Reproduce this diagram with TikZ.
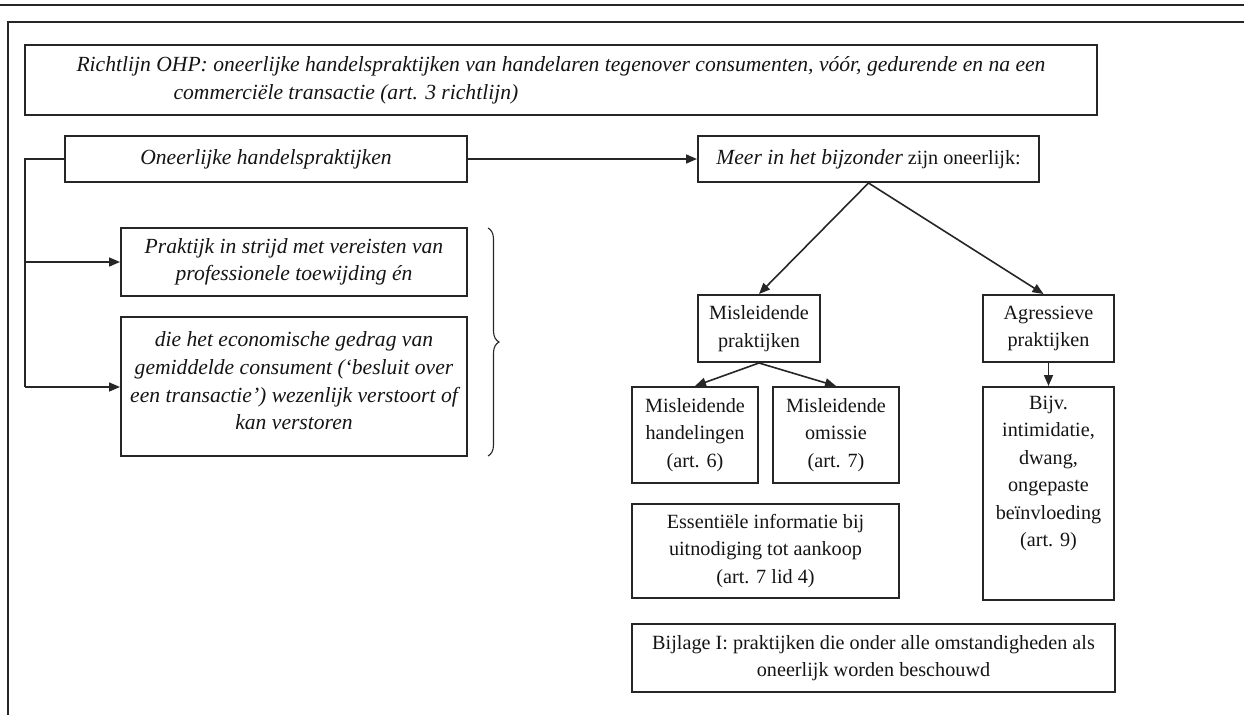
\documentclass[tikz,border=0pt]{standalone}
\usepackage{fontspec}
\setmainfont{Liberation Serif}
\usetikzlibrary{arrows.meta,decorations.pathreplacing}
\newcommand{\fsz}{\fontsize{20.2}{27.4}\selectfont}
\newcommand{\fsi}{\fontsize{21.6}{27.6}\selectfont\itshape}
\tikzset{
  box/.style={draw=black!85, line width=2pt, inner sep=0pt, align=center, font=\fsz, text=black!92},
  ibox/.style={box, font=\fsi},
  txt/.style={inner sep=0pt, align=center, font=\fsz, text=black!92},
  arr/.style={draw=black!85, line width=1.6pt, -{Triangle[length=11pt,width=9pt]}},
  conn/.style={draw=black!85, line width=1.6pt},
}
\begin{document}
\begin{tikzpicture}[x=1pt,y=-1pt]
\useasboundingbox (0,0) rectangle (1244,715);
% page rules and frame
\draw[line width=1.4pt, black!85] (0,5) -- (1244,5);
\draw[line width=2.6pt, black!85] (8,715) -- (8,22) -- (1244,22);

% boxes
\node[ibox, minimum width=1072pt, minimum height=70pt, align=left] (top) at (561,80)
  {Richtlijn OHP: oneerlijke handelspraktijken van handelaren tegenover consumenten, vóór, gedurende en na een\\
   \hspace*{97pt}commerciële transactie (art. 3 richtlijn)};
\node[ibox, minimum width=402pt, minimum height=46pt] (ohp) at (266,159) {Oneerlijke handelspraktijken};
\node[box, minimum width=341pt, minimum height=46pt] (meer) at (868.5,159) {{\fsi Meer in het bijzonder} zijn oneerlijk:};
\node[ibox, minimum width=346pt, minimum height=68pt] (prak) at (294,262)
  {Praktijk in strijd met vereisten van\\professionele toewijding én};
\node[box, minimum width=346pt, minimum height=139pt] (die) at (294,386.5) {};
\node[txt, font=\fsi] (dietxt) at (294,381)
  {die het economische gedrag van\\gemiddelde consument (‘besluit over\\een transactie’) wezenlijk verstoort of\\kan verstoren};
\draw[decorate, decoration={brace, amplitude=11pt}, line width=1.1pt, black!85] (488,228) -- (488,456);

\node[box, minimum width=122pt, minimum height=67pt] (misp) at (759,328.5) {Misleidende\\praktijken};
\node[box, minimum width=131pt, minimum height=67pt] (agr) at (1048.5,328.5) {Agressieve\\praktijken};
\node[box, minimum width=126pt, minimum height=96pt] (mish) at (695,435) {Misleidende\\handelingen\\(art. 6)};
\node[box, minimum width=126pt, minimum height=96pt] (miso) at (836,435) {Misleidende\\omissie\\(art. 7)};
\node[box, minimum width=131pt, minimum height=213pt] (bijv) at (1048.5,493.5) {};
\node[txt, anchor=north] (bijvtxt) at (1048.5,396)
  {Bijv.\\intimidatie,\\dwang,\\ongepaste\\beïnvloeding\\(art. 9)};
\node[box, minimum width=267pt, minimum height=94pt] (ess) at (765.5,551)
  {Essentiële informatie bij\\uitnodiging tot aankoop\\(art. 7 lid 4)};
\node[box, minimum width=483pt, minimum height=68pt] (bijl) at (873.5,658)
  {Bijlage I: praktijken die onder alle omstandigheden als\\oneerlijk worden beschouwd};

% connectors
\draw[arr] (ohp.east) -- (meer.west);
\coordinate (lt) at (25,159);
\coordinate (lm) at (25,262);
\coordinate (lb) at (25,387);
\draw[conn] (ohp.west) -- (lt) -- (lb);
\draw[arr] (lm) -- (prak.west);
\draw[arr] (lb) -- (die.west |- lb);
\draw[arr] (meer.south) -- (misp.north);
\draw[arr] (meer.south) -- ([xshift=-5pt]agr.north);
\draw[arr] (misp.south) -- (mish.north);
\draw[arr] (misp.south) -- (miso.north);
\draw[arr] (agr.south) -- (bijv.north);
\end{tikzpicture}
\end{document}
